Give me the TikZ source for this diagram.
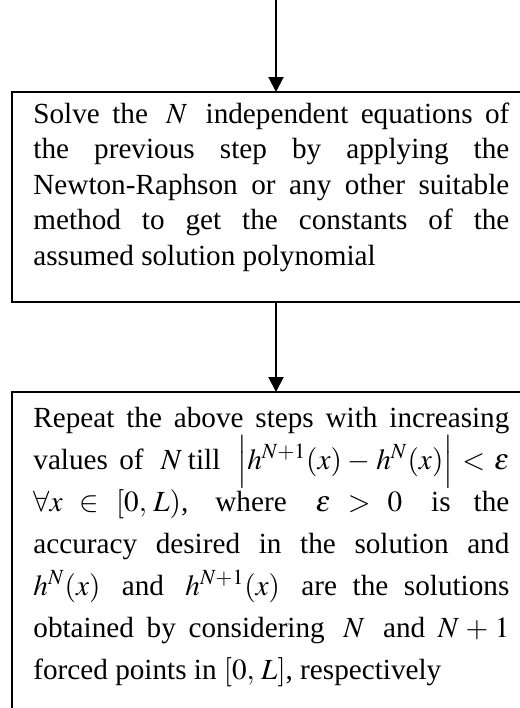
\documentclass[tikz,border=0pt]{standalone}
\usepackage[no-math]{fontspec}
\usepackage{mathptmx}
\setmainfont{Liberation Serif}
\usepackage{tikz}
\usetikzlibrary{positioning,arrows.meta,calc}
\tikzset{
  stepbox/.style ={draw, rectangle, line width=1pt, minimum width=264pt, outer sep=0pt, inner sep=0pt},
  steptext/.style={align=justify, text width=238pt, inner sep=0pt, anchor=base west},
  arr/.style     ={-{Triangle[length=7.5pt, width=7.5pt]}, line width=1pt},
}
\newcommand{\mth}[1]{\hspace{0.2em}$#1$\hspace{0.2em}}

\begin{document}
\begin{tikzpicture}[x=0.5pt, y=-0.5pt]
  \useasboundingbox (0,0) rectangle (520,708);
  \clip (0,0) rectangle (520,708);
  \coordinate (top) at (0,0);

  \node[stepbox, minimum height=105pt, anchor=north west] (solve) at (12,92) {};
  \node[stepbox, minimum height=184pt, below=45pt of solve] (repeat) {};

  \node[steptext, font=\fontsize{14.6pt}{17.75pt}\selectfont] (solvetxt) at ($(solve.north west)+(21,31)$)
    {Solve the \mth{N} independent equations of\linebreak
     the previous step by applying the\linebreak
     \mbox{Newton-Raphson} or any other suitable\linebreak
     method to get the constants of the\linebreak
     assumed solution polynomial};
  \node[steptext, font=\fontsize{14.6pt}{21pt}\selectfont] (repeattxt) at ($(repeat.north west)+(21,35)$)
    {Repeat the above steps with increasing\linebreak
     values of \mth{N}till \mth{\Big|h^{N+1}(x)-h^{N}(x)\Big|<\varepsilon}\linebreak
     $\forall x\in[0,\,L)$, where \mth{\varepsilon>0} is the\linebreak
     accuracy desired in the solution and\linebreak
     \mth{h^{N}(x)} and \mth{h^{N+1}(x)} are the solutions\linebreak
     obtained by considering \mth{N} and $N+1$\linebreak
     forced points in $[0,\,L]$, respectively};

  \draw[arr] (solve.north |- top) -- (solve.north);
  \draw[arr] (solve.south) -- (repeat.north);
\end{tikzpicture}
\end{document}
